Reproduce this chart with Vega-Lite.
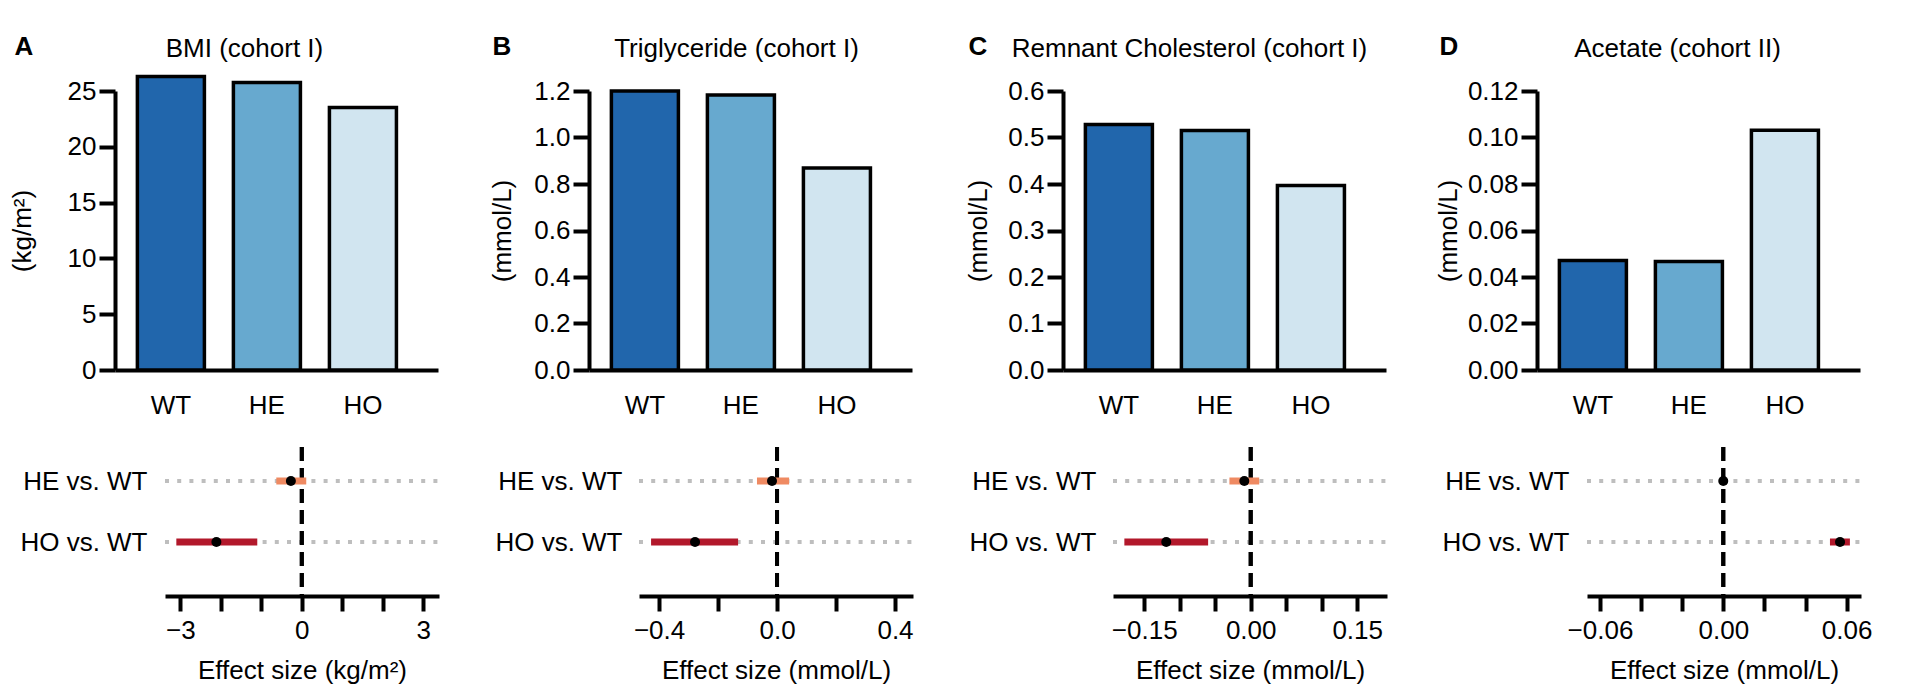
{
  "$schema": "https://vega.github.io/schema/vega-lite/v6.json",
  "padding": {"left": 8, "top": 33, "right": 40, "bottom": 2},
  "background": "white",
  "config": {
    "font": "Liberation Sans",
    "view": {"stroke": null},
    "axis": {
      "labelFont": "Liberation Sans", "titleFont": "Liberation Sans",
      "labelFontSize": 26, "titleFontSize": 26,
      "labelColor": "black", "titleColor": "black",
      "domainColor": "black", "tickColor": "black",
      "grid": false, "titleFontWeight": "normal"
    },
    "title": {"font": "Liberation Sans", "fontSize": 26, "fontWeight": "normal", "color": "black", "offset": 18, "dy": 47}
  },
  "datasets": {
    "bars": [
      {"panel": "A", "group": "WT", "value": 26.3},
      {"panel": "A", "group": "HE", "value": 25.77},
      {"panel": "A", "group": "HO", "value": 23.53},
      {"panel": "B", "group": "WT", "value": 1.2},
      {"panel": "B", "group": "HE", "value": 1.183},
      {"panel": "B", "group": "HO", "value": 0.869},
      {"panel": "C", "group": "WT", "value": 0.528},
      {"panel": "C", "group": "HE", "value": 0.515},
      {"panel": "C", "group": "HO", "value": 0.397},
      {"panel": "D", "group": "WT", "value": 0.0471},
      {"panel": "D", "group": "HE", "value": 0.0467},
      {"panel": "D", "group": "HO", "value": 0.1031}
    ],
    "effects": [
      {"panel": "A", "comparison": "HE vs. WT", "est": -0.27, "lo": -0.63, "hi": 0.11},
      {"panel": "A", "comparison": "HO vs. WT", "est": -2.11, "lo": -3.10, "hi": -1.10},
      {"panel": "B", "comparison": "HE vs. WT", "est": -0.017, "lo": -0.068, "hi": 0.041},
      {"panel": "B", "comparison": "HO vs. WT", "est": -0.278, "lo": -0.427, "hi": -0.132},
      {"panel": "C", "comparison": "HE vs. WT", "est": -0.009, "lo": -0.030, "hi": 0.012},
      {"panel": "C", "comparison": "HO vs. WT", "est": -0.119, "lo": -0.178, "hi": -0.060},
      {"panel": "D", "comparison": "HE vs. WT", "est": 0.0, "lo": -0.0015, "hi": 0.0015},
      {"panel": "D", "comparison": "HO vs. WT", "est": 0.0568, "lo": 0.0519, "hi": 0.0616}
    ]
  },
  "columns": 4,
  "bounds": "flush",
  "spacing": {"row": 77, "column": 150},
  "concat": [
    {
      "width": 323, "height": 279,
      "title": {"text": "BMI (cohort I)", "anchor": "middle", "frame": "group", "dx": -32},
      "data": {"name": "bars"},
      "transform": [{"filter": "datum.panel == 'A'"}],
      "mark": {"type": "bar", "stroke": "black", "strokeWidth": 3.5, "clip": false},
      "encoding": {
        "x": {"field": "group", "type": "nominal", "sort": ["WT", "HE", "HO"], "scale": {"paddingInner": 0.302, "paddingOuter": 0.333, "align": 0.35}, "axis": {"title": "A", "titleFontWeight": "bold", "titleX": -101, "titleY": -316, "titleAlign": "left", "titleBaseline": "alphabetic", "labelAngle": 0, "ticks": false, "tickSize": 0, "domainWidth": 4, "labelPadding": 22}},
        "y": {"field": "value", "type": "quantitative", "scale": {"domain": [0, 25], "nice": false, "zero": true}, "axis": {"title": "(kg/m²)", "values": [0, 5, 10, 15, 20, 25], "format": "d", "tickSize": 16, "tickWidth": 4, "domainWidth": 4, "labelPadding": 3, "titleX": -80, "titleBaseline": "bottom"}},
        "fill": {"field": "group", "type": "nominal", "scale": {"domain": ["WT", "HE", "HO"], "range": ["#2166AC", "#67A9CF", "#D1E5F0"]}, "legend": null}
      }
    },
    {
      "width": 323, "height": 279,
      "title": {"text": "Triglyceride (cohort I)", "anchor": "middle", "frame": "group", "dx": -14},
      "data": {"name": "bars"},
      "transform": [{"filter": "datum.panel == 'B'"}],
      "mark": {"type": "bar", "stroke": "black", "strokeWidth": 3.5, "clip": false},
      "encoding": {
        "x": {"field": "group", "type": "nominal", "sort": ["WT", "HE", "HO"], "scale": {"paddingInner": 0.302, "paddingOuter": 0.333, "align": 0.35}, "axis": {"title": "B", "titleFontWeight": "bold", "titleX": -97, "titleY": -316, "titleAlign": "left", "titleBaseline": "alphabetic", "labelAngle": 0, "ticks": false, "tickSize": 0, "domainWidth": 4, "labelPadding": 22}},
        "y": {"field": "value", "type": "quantitative", "scale": {"domain": [0, 1.2], "nice": false, "zero": true}, "axis": {"title": "(mmol/L)", "values": [0, 0.2, 0.4, 0.6, 0.8, 1.0, 1.2], "format": ".1f", "tickSize": 16, "tickWidth": 4, "domainWidth": 4, "labelPadding": 3, "titleX": -74, "titleBaseline": "bottom"}},
        "fill": {"field": "group", "type": "nominal", "scale": {"domain": ["WT", "HE", "HO"], "range": ["#2166AC", "#67A9CF", "#D1E5F0"]}, "legend": null}
      }
    },
    {
      "width": 323, "height": 279,
      "title": {"text": "Remnant Cholesterol (cohort I)", "anchor": "middle", "frame": "group", "dx": -35},
      "data": {"name": "bars"},
      "transform": [{"filter": "datum.panel == 'C'"}],
      "mark": {"type": "bar", "stroke": "black", "strokeWidth": 3.5, "clip": false},
      "encoding": {
        "x": {"field": "group", "type": "nominal", "sort": ["WT", "HE", "HO"], "scale": {"paddingInner": 0.302, "paddingOuter": 0.333, "align": 0.35}, "axis": {"title": "C", "titleFontWeight": "bold", "titleX": -95, "titleY": -316, "titleAlign": "left", "titleBaseline": "alphabetic", "labelAngle": 0, "ticks": false, "tickSize": 0, "domainWidth": 4, "labelPadding": 22}},
        "y": {"field": "value", "type": "quantitative", "scale": {"domain": [0, 0.6], "nice": false, "zero": true}, "axis": {"title": "(mmol/L)", "values": [0, 0.1, 0.2, 0.3, 0.4, 0.5, 0.6], "format": ".1f", "tickSize": 16, "tickWidth": 4, "domainWidth": 4, "labelPadding": 3, "titleX": -72, "titleBaseline": "bottom"}},
        "fill": {"field": "group", "type": "nominal", "scale": {"domain": ["WT", "HE", "HO"], "range": ["#2166AC", "#67A9CF", "#D1E5F0"]}, "legend": null}
      }
    },
    {
      "width": 323, "height": 279,
      "title": {"text": "Acetate (cohort II)", "anchor": "middle", "frame": "group", "dx": -21},
      "data": {"name": "bars"},
      "transform": [{"filter": "datum.panel == 'D'"}],
      "mark": {"type": "bar", "stroke": "black", "strokeWidth": 3.5, "clip": false},
      "encoding": {
        "x": {"field": "group", "type": "nominal", "sort": ["WT", "HE", "HO"], "scale": {"paddingInner": 0.302, "paddingOuter": 0.333, "align": 0.35}, "axis": {"title": "D", "titleFontWeight": "bold", "titleX": -98, "titleY": -316, "titleAlign": "left", "titleBaseline": "alphabetic", "labelAngle": 0, "ticks": false, "tickSize": 0, "domainWidth": 4, "labelPadding": 22}},
        "y": {"field": "value", "type": "quantitative", "scale": {"domain": [0, 0.12], "nice": false, "zero": true}, "axis": {"title": "(mmol/L)", "values": [0, 0.02, 0.04, 0.06, 0.08, 0.10, 0.12], "format": ".2f", "tickSize": 16, "tickWidth": 4, "domainWidth": 4, "labelPadding": 3, "titleX": -76, "titleBaseline": "bottom"}},
        "fill": {"field": "group", "type": "nominal", "scale": {"domain": ["WT", "HE", "HO"], "range": ["#2166AC", "#67A9CF", "#D1E5F0"]}, "legend": null}
      }
    },
    {
      "width": 324, "height": 149,
      "data": {"name": "effects"},
      "transform": [{"filter": "datum.panel == 'A'"}],
      "layer": [
        {
          "mark": {"type": "rule", "color": "#BEBEBE", "strokeWidth": 4, "strokeDash": [4, 8.2]},
          "encoding": {
            "y": {"field": "comparison", "type": "nominal", "scale": {"type": "point", "domain": ["HE vs. WT", "HO vs. WT"], "range": [34, 95], "padding": 0}, "axis": {"title": null, "domain": false, "ticks": false, "tickSize": 0, "labelPadding": -32, "labelAlign": "right"}},
            "x": {"datum": -3.38, "type": "quantitative", "title": "Effect size (kg/m²)", "scale": {"domain": [-3.38, 3.39], "range": [50, 324], "nice": false, "zero": false}, "axis": {"values": [-3, -2, -1, 0, 1, 2, 3], "format": "d", "labelExpr": "(datum.value == -3 || datum.value == 0 || datum.value == 3) ? datum.label : ''", "labelFlush": false, "labelOverlap": false, "tickSize": 15, "tickWidth": 4, "domainWidth": 4, "labelPadding": 6, "titleY": 61, "titleBaseline": "top"}},
            "x2": {"datum": 3.39}
          }
        },
        {
          "mark": {"type": "rule", "color": "black", "strokeWidth": 4, "strokeDash": [14, 7]},
          "encoding": {"x": {"datum": 0, "type": "quantitative", "title": "Effect size (kg/m²)"}}
        },
        {
          "mark": {"type": "rule", "strokeWidth": 7},
          "encoding": {
            "y": {"field": "comparison", "type": "nominal"},
            "x": {"field": "lo", "type": "quantitative", "title": "Effect size (kg/m²)"},
            "x2": {"field": "hi"},
            "stroke": {"field": "comparison", "type": "nominal", "scale": {"domain": ["HE vs. WT", "HO vs. WT"], "range": ["#EF8A62", "#B2182B"]}, "legend": null}
          }
        },
        {
          "mark": {"type": "point", "filled": true, "shape": "circle", "size": 100, "color": "black", "opacity": 1},
          "encoding": {
            "y": {"field": "comparison", "type": "nominal"},
            "x": {"field": "est", "type": "quantitative", "title": "Effect size (kg/m²)"}
          }
        }
      ]
    },
    {
      "width": 324, "height": 149,
      "data": {"name": "effects"},
      "transform": [{"filter": "datum.panel == 'B'"}],
      "layer": [
        {
          "mark": {"type": "rule", "color": "#BEBEBE", "strokeWidth": 4, "strokeDash": [4, 8.2]},
          "encoding": {
            "y": {"field": "comparison", "type": "nominal", "scale": {"type": "point", "domain": ["HE vs. WT", "HO vs. WT"], "range": [34, 95], "padding": 0}, "axis": {"title": null, "domain": false, "ticks": false, "tickSize": 0, "labelPadding": -33, "labelAlign": "right"}},
            "x": {"datum": -0.468, "type": "quantitative", "title": "Effect size (mmol/L)", "scale": {"domain": [-0.468, 0.461], "range": [50, 324], "nice": false, "zero": false}, "axis": {"values": [-0.4, -0.2, 0, 0.2, 0.4], "format": ".1f", "labelExpr": "(abs(datum.value) < 1e-9 || abs(abs(datum.value) - 0.4) < 1e-9) ? datum.label : ''", "labelFlush": false, "labelOverlap": false, "tickSize": 15, "tickWidth": 4, "domainWidth": 4, "labelPadding": 6, "titleY": 61, "titleBaseline": "top"}},
            "x2": {"datum": 0.461}
          }
        },
        {
          "mark": {"type": "rule", "color": "black", "strokeWidth": 4, "strokeDash": [14, 7]},
          "encoding": {"x": {"datum": 0, "type": "quantitative", "title": "Effect size (mmol/L)"}}
        },
        {
          "mark": {"type": "rule", "strokeWidth": 7},
          "encoding": {
            "y": {"field": "comparison", "type": "nominal"},
            "x": {"field": "lo", "type": "quantitative", "title": "Effect size (mmol/L)"},
            "x2": {"field": "hi"},
            "stroke": {"field": "comparison", "type": "nominal", "scale": {"domain": ["HE vs. WT", "HO vs. WT"], "range": ["#EF8A62", "#B2182B"]}, "legend": null}
          }
        },
        {
          "mark": {"type": "point", "filled": true, "shape": "circle", "size": 100, "color": "black", "opacity": 1},
          "encoding": {
            "y": {"field": "comparison", "type": "nominal"},
            "x": {"field": "est", "type": "quantitative", "title": "Effect size (mmol/L)"}
          }
        }
      ]
    },
    {
      "width": 324, "height": 149,
      "data": {"name": "effects"},
      "transform": [{"filter": "datum.panel == 'C'"}],
      "layer": [
        {
          "mark": {"type": "rule", "color": "#BEBEBE", "strokeWidth": 4, "strokeDash": [4, 8.2]},
          "encoding": {
            "y": {"field": "comparison", "type": "nominal", "scale": {"type": "point", "domain": ["HE vs. WT", "HO vs. WT"], "range": [34, 95], "padding": 0}, "axis": {"title": null, "domain": false, "ticks": false, "tickSize": 0, "labelPadding": -33, "labelAlign": "right"}},
            "x": {"datum": -0.194, "type": "quantitative", "title": "Effect size (mmol/L)", "scale": {"domain": [-0.194, 0.192], "range": [50, 324], "nice": false, "zero": false}, "axis": {"values": [-0.15, -0.1, -0.05, 0, 0.05, 0.1, 0.15], "format": ".2f", "labelExpr": "(abs(datum.value) < 1e-9 || abs(abs(datum.value) - 0.15) < 1e-9) ? datum.label : ''", "labelFlush": false, "labelOverlap": false, "tickSize": 15, "tickWidth": 4, "domainWidth": 4, "labelPadding": 6, "titleY": 61, "titleBaseline": "top"}},
            "x2": {"datum": 0.192}
          }
        },
        {
          "mark": {"type": "rule", "color": "black", "strokeWidth": 4, "strokeDash": [14, 7]},
          "encoding": {"x": {"datum": 0, "type": "quantitative", "title": "Effect size (mmol/L)"}}
        },
        {
          "mark": {"type": "rule", "strokeWidth": 7},
          "encoding": {
            "y": {"field": "comparison", "type": "nominal"},
            "x": {"field": "lo", "type": "quantitative", "title": "Effect size (mmol/L)"},
            "x2": {"field": "hi"},
            "stroke": {"field": "comparison", "type": "nominal", "scale": {"domain": ["HE vs. WT", "HO vs. WT"], "range": ["#EF8A62", "#B2182B"]}, "legend": null}
          }
        },
        {
          "mark": {"type": "point", "filled": true, "shape": "circle", "size": 100, "color": "black", "opacity": 1},
          "encoding": {
            "y": {"field": "comparison", "type": "nominal"},
            "x": {"field": "est", "type": "quantitative", "title": "Effect size (mmol/L)"}
          }
        }
      ]
    },
    {
      "width": 324, "height": 149,
      "data": {"name": "effects"},
      "transform": [{"filter": "datum.panel == 'D'"}],
      "layer": [
        {
          "mark": {"type": "rule", "color": "#BEBEBE", "strokeWidth": 4, "strokeDash": [4, 8.2]},
          "encoding": {
            "y": {"field": "comparison", "type": "nominal", "scale": {"type": "point", "domain": ["HE vs. WT", "HO vs. WT"], "range": [34, 95], "padding": 0}, "axis": {"title": null, "domain": false, "ticks": false, "tickSize": 0, "labelPadding": -32, "labelAlign": "right"}},
            "x": {"datum": -0.0663, "type": "quantitative", "title": "Effect size (mmol/L)", "scale": {"domain": [-0.0663, 0.067], "range": [50, 324], "nice": false, "zero": false}, "axis": {"values": [-0.06, -0.04, -0.02, 0, 0.02, 0.04, 0.06], "format": ".2f", "labelExpr": "(abs(datum.value) < 1e-9 || abs(abs(datum.value) - 0.06) < 1e-9) ? datum.label : ''", "labelFlush": false, "labelOverlap": false, "tickSize": 15, "tickWidth": 4, "domainWidth": 4, "labelPadding": 6, "titleY": 61, "titleBaseline": "top"}},
            "x2": {"datum": 0.067}
          }
        },
        {
          "mark": {"type": "rule", "color": "black", "strokeWidth": 4, "strokeDash": [14, 7]},
          "encoding": {"x": {"datum": 0, "type": "quantitative", "title": "Effect size (mmol/L)"}}
        },
        {
          "mark": {"type": "rule", "strokeWidth": 7},
          "encoding": {
            "y": {"field": "comparison", "type": "nominal"},
            "x": {"field": "lo", "type": "quantitative", "title": "Effect size (mmol/L)"},
            "x2": {"field": "hi"},
            "stroke": {"field": "comparison", "type": "nominal", "scale": {"domain": ["HE vs. WT", "HO vs. WT"], "range": ["#EF8A62", "#B2182B"]}, "legend": null}
          }
        },
        {
          "mark": {"type": "point", "filled": true, "shape": "circle", "size": 100, "color": "black", "opacity": 1},
          "encoding": {
            "y": {"field": "comparison", "type": "nominal"},
            "x": {"field": "est", "type": "quantitative", "title": "Effect size (mmol/L)"}
          }
        }
      ]
    }
  ]
}
